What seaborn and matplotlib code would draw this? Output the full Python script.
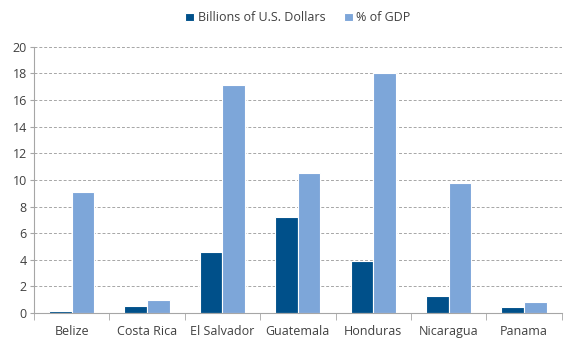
import matplotlib
matplotlib.use("Agg")
import matplotlib.pyplot as plt
import seaborn as sns
import pandas as pd
import numpy as np

countries = ["Belize", "Costa Rica", "El Salvador", "Guatemala", "Honduras", "Nicaragua", "Panama"]
billions_usd = [0.15, 0.5, 4.6, 7.2, 3.9, 1.3, 0.45]
pct_gdp = [9.1, 0.95, 17.1, 10.5, 18.0, 9.75, 0.85]
series_names = ["Billions of U.S. Dollars", "% of GDP"]
y_ticks = [0, 2, 4, 6, 8, 10, 12, 14, 16, 18, 20]

df = pd.DataFrame({
    "country": countries * 2,
    "series": [series_names[0]] * len(countries) + [series_names[1]] * len(countries),
    "value": billions_usd + pct_gdp,
})

sns.set_style("white")
plt.rcParams["font.family"] = ["Open Sans", "DejaVu Sans"]

fig = plt.figure(figsize=(5.75, 3.47), dpi=100)
ax = fig.add_axes([0.059, 0.098, 0.918, 0.767])

sns.barplot(data=df, x="country", y="value", hue="series", order=countries,
            hue_order=series_names, palette=["#00508A", "#7DA6D9"], saturation=1,
            width=0.6, edgecolor="white", linewidth=0.8, ax=ax, legend=True)

ax.set_ylim(0, 20)
ax.set_yticks(y_ticks)
ax.set_xlim(-0.5, len(countries) - 0.5)
ax.set_xlabel("")
ax.set_ylabel("")
ax.yaxis.grid(True, linestyle=(0, (3, 2)), color="#A6A6A6", linewidth=0.7)
ax.set_axisbelow(True)
for s in ["top", "right"]:
    ax.spines[s].set_visible(False)
for s in ["left", "bottom"]:
    ax.spines[s].set_color("#A6A6A6")
    ax.spines[s].set_linewidth(0.8)

ax.tick_params(axis="y", which="major", length=3, color="#A6A6A6", labelsize=9, labelcolor="#404040", direction="out", left=True, pad=2)
ax.set_xticks(np.arange(-0.5, len(countries)), minor=True)
ax.tick_params(axis="x", which="major", length=0, labelsize=9, labelcolor="#404040", pad=9)
ax.tick_params(axis="x", which="minor", length=5, color="#A6A6A6", direction="out", bottom=True)

handles, labels = ax.get_legend_handles_labels()
ax.legend(handles, labels, loc="center", bbox_to_anchor=(0.5, 1.109), ncol=2, frameon=False,
          fontsize=9, handlelength=0.7, handleheight=0.7, handletextpad=0.3, columnspacing=1.5,
          labelcolor="#404040")

fig.savefig("out.png", dpi=100)
